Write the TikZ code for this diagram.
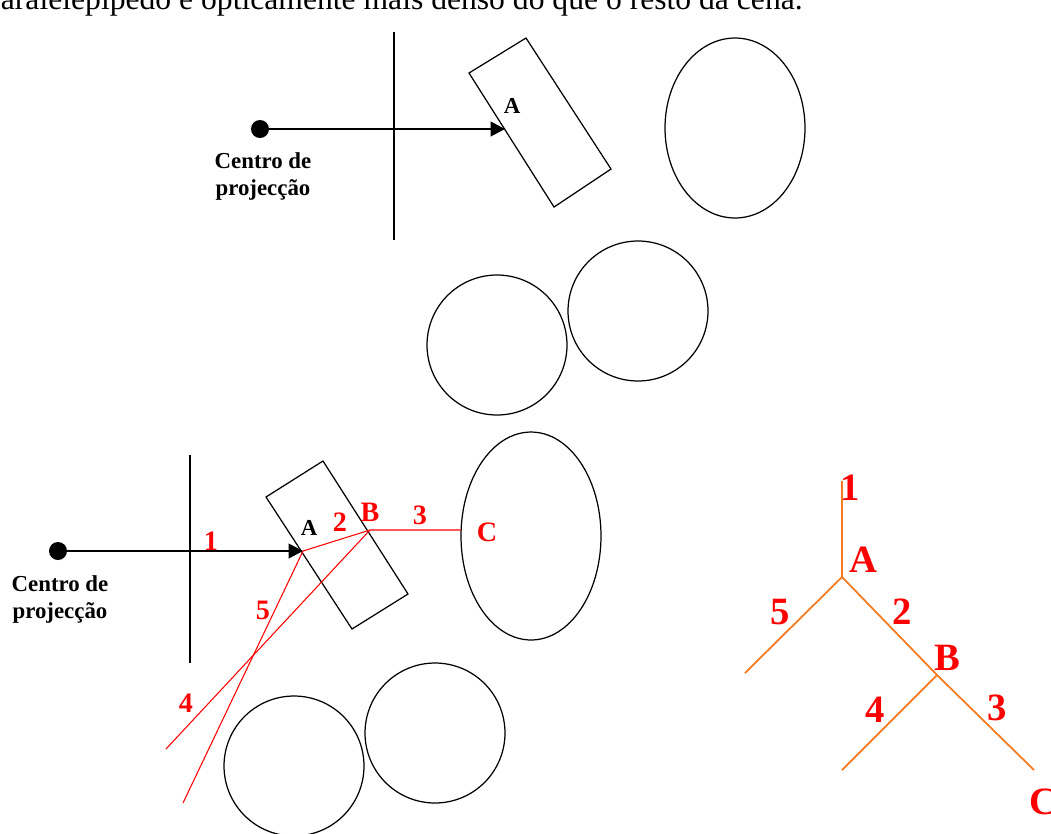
\documentclass[tikz,border=0pt]{standalone}
\usepackage{fontspec}
\setmainfont{Liberation Serif}
\usetikzlibrary{arrows.meta, positioning, calc}
\definecolor{raydraw}{HTML}{FF0000}
\definecolor{treedraw}{HTML}{F57A1E}
\tikzset{
  obj/.style={draw=black, line width=0.7pt},
  dotn/.style={circle, fill=black, inner sep=0pt, minimum size=0.36cm},
  lab/.style={font=\fontsize{13}{15.4}\selectfont\bfseries, align=center, inner sep=0pt},
  rlab/.style={font=\fontsize{16}{18}\selectfont\bfseries, text=raydraw, inner sep=0pt},
  tlab/.style={font=\fontsize{22}{24}\selectfont\bfseries, text=raydraw, inner sep=0pt},
  ray/.style={draw=raydraw, line width=0.6pt},
  arr/.style={-{Triangle[length=0.29cm, width=0.3cm]}, line width=0.7pt},
  branch/.style={draw=treedraw, line width=1pt},
}

\begin{document}
\begin{tikzpicture}[x=0.02cm, y=-0.02cm]
  \useasboundingbox (0,0) rectangle (1051,833);
  \node[font=\fontsize{18}{21}\selectfont, anchor=base east, inner sep=0pt] (txt) at (803,9) {paralelepípedo é opticamente mais denso do que o resto da cena.};
  % top scene
  \node[dotn] (cp1) at (260,129) {};
  \node[lab, anchor=north] (cp1t) at (263,152) {Centro de\\projecção};
  \draw[obj] (394,32) -- (394,240);
  \coordinate (a1) at (505,129);
  \draw[arr] (cp1) -- (a1);
  \draw[obj] (469,73) -- (526,38) -- (611,169) -- (554,207) -- cycle;
  \node[lab] (a1t) at (512,106) {A};
  \draw[obj] (735,128) ellipse [x radius=1.4cm, y radius=1.8cm];
  \draw[obj] (497,345) circle [radius=1.4cm];
  \draw[obj] (638,311) circle [radius=1.4cm];
  % bottom scene
  \node[dotn] (cp2) at (58,551) {};
  \node[lab, anchor=north] (cp2t) at (60,575) {Centro de\\projecção};
  \draw[obj] (190,455) -- (190,663);
  \coordinate (pa) at (303,551);
  \coordinate (pb) at (370,530);
  \coordinate (pc) at (461,530);
  \coordinate (e4) at (166,749);
  \coordinate (e5) at (183,803);
  \draw[arr] (cp2) -- (pa);
  \draw[obj] (266,497) -- (323,461) -- (408,594) -- (352,629) -- cycle;
  \draw[obj] (531,536) ellipse [x radius=1.4cm, y radius=2.08cm];
  \draw[obj] (294,766) circle [radius=1.4cm];
  \draw[obj] (435,733) circle [radius=1.4cm];
  \draw[ray] (pa) -- (pb) -- (pc);
  \draw[ray] (pa) -- (e5);
  \draw[ray] (pb) -- (e4);
  \node[lab] (pat) at (309,528) {A};
  \node[rlab] (r1) at (211,541) {1};
  \node[rlab] (r2) at (340,522) {2};
  \node[rlab] (rb) at (370,512) {B};
  \node[rlab] (r3) at (420,515) {3};
  \node[rlab] (rc) at (487,532) {C};
  \node[rlab] (r5) at (263,610) {5};
  \node[rlab] (r4) at (186,703) {4};
  % ray tree
  \coordinate (t1) at (842,481);
  \coordinate (ta) at (842,577);
  \coordinate (t5) at (745,673);
  \coordinate (tb) at (937,675);
  \coordinate (t4) at (842,770);
  \coordinate (t3) at (1034,770);
  \draw[branch] (t1) -- (ta) -- (tb) -- (t3);
  \draw[branch] (ta) -- (t5);
  \draw[branch] (tb) -- (t4);
  \node[tlab] (l1) at (850,488) {1};
  \node[tlab] (la) at (863,560) {A};
  \node[tlab] (l5) at (780,612) {5};
  \node[tlab] (l2) at (902,612) {2};
  \node[tlab] (lb) at (947,658) {B};
  \node[tlab] (l4) at (875,710) {4};
  \node[tlab] (l3) at (997,708) {3};
  \node[tlab] (lc) at (1043,802) {C};
\end{tikzpicture}
\end{document}
